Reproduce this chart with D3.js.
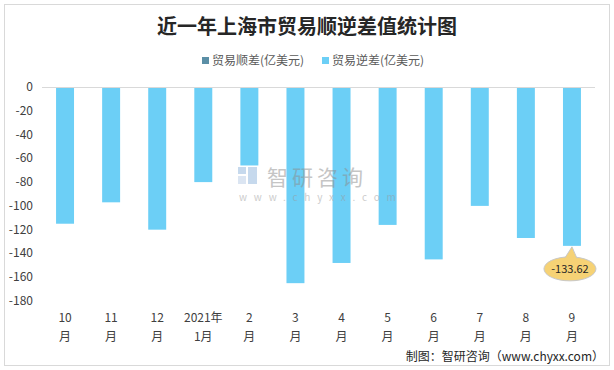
<!DOCTYPE html>
<html>
<head>
<meta charset="utf-8">
<script src="https://cdn.jsdelivr.net/npm/d3@7"></script>
<style>
    body { margin: 0; background: #fff; }
    text { font-family: "Noto Sans CJK SC", "Liberation Sans", sans-serif; }
</style>
</head>
<body>
<div id="chart"></div>
<script>
var months = ['10月', '11月', '12月', '2021年1月', '2月', '3月', '4月', '5月', '6月', '7月', '8月', '9月'];
var monthLines = [['10', '月'], ['11', '月'], ['12', '月'], ['2021年', '1月'], ['2', '月'], ['3', '月'],
    ['4', '月'], ['5', '月'], ['6', '月'], ['7', '月'], ['8', '月'], ['9', '月']];
var surplus = [0, 0, 0, 0, 0, 0, 0, 0, 0, 0, 0, 0];
var deficit = [-115, -97, -120, -80, -66, -165, -148, -116, -145, -100, -127, -133.62];
var yTicks = [0, -20, -40, -60, -80, -100, -120, -140, -160, -180];
var legendNames = ['贸易顺差(亿美元)', '贸易逆差(亿美元)'];

var svg = d3.select('#chart').append('svg')
    .attr('width', 614)
    .attr('height', 370);

svg.append('rect')
    .attr('x', 4.5).attr('y', 4.5)
    .attr('width', 605).attr('height', 361)
    .attr('fill', '#fff')
    .attr('stroke', '#d9d9d9');

svg.append('text')
    .attr('x', 307).attr('y', 34)
    .attr('text-anchor', 'middle')
    .style('font-size', '20px')
    .style('font-weight', 'bold')
    .attr('fill', '#262626')
    .text('近一年上海市贸易顺逆差值统计图');

// legend
var legendColors = ['#5b8fa6', '#6ccff6'];
var legendX = [202, 322];
legendNames.forEach(function (name, i) {
    svg.append('rect')
        .attr('x', legendX[i]).attr('y', 57)
        .attr('width', 7).attr('height', 7)
        .attr('fill', legendColors[i]);
    svg.append('text')
        .attr('x', legendX[i] + 10).attr('y', 65)
        .style('font-size', '12px')
        .attr('fill', '#595959')
        .text(name);
});

var x = d3.scaleBand()
    .domain(months)
    .range([42, 595])
    .paddingInner(0.61)
    .paddingOuter(0.305);

var y = d3.scaleLinear()
    .domain([0, -180])
    .range([87, 301]);

// y axis labels
svg.append('g')
    .selectAll('text')
    .data(yTicks)
    .enter().append('text')
    .attr('x', 33)
    .attr('y', function (d) { return y(d) + 4; })
    .attr('text-anchor', 'end')
    .style('font-size', '12px')
    .attr('fill', '#404040')
    .text(function (d) { return d; });

// bars
svg.append('g')
    .selectAll('rect')
    .data(deficit)
    .enter().append('rect')
    .attr('x', function (d, i) { return x(months[i]); })
    .attr('y', y(0))
    .attr('width', x.bandwidth())
    .attr('height', function (d) { return y(d) - y(0); })
    .attr('fill', '#6ccff6');

svg.append('line')
    .attr('x1', 42).attr('x2', 595)
    .attr('y1', y(0) + 0.5).attr('y2', y(0) + 0.5)
    .attr('stroke', '#d9d9d9');

// watermark
var wm = svg.append('g').attr('opacity', 0.5);
wm.append('rect').attr('x', 238).attr('y', 167).attr('width', 8).attr('height', 7).attr('fill', '#8fb4dc');
wm.append('rect').attr('x', 248).attr('y', 167).attr('width', 9).attr('height', 17).attr('fill', '#8fb4dc');
wm.append('rect').attr('x', 238).attr('y', 176).attr('width', 8).attr('height', 8).attr('fill', '#b9cde6');
wm.append('text')
    .attr('x', 267).attr('y', 185)
    .style('font-size', '21px')
    .attr('fill', '#8c8c8c')
    .style('letter-spacing', '4px')
    .text('智研咨询');
wm.append('text')
    .attr('x', 239).attr('y', 201)
    .style('font-size', '10px')
    .attr('fill', '#9a9a9a')
    .style('letter-spacing', '6.8px')
    .text('www.chyxx.com');

// x labels
var xl = svg.append('g')
    .selectAll('text')
    .data(monthLines)
    .enter().append('text')
    .attr('text-anchor', 'middle')
    .style('font-size', '12px')
    .attr('fill', '#404040');
xl.append('tspan')
    .attr('x', function (d, i) { return x(months[i]) + x.bandwidth() / 2; })
    .attr('y', 322)
    .text(function (d) { return d[0]; });
xl.append('tspan')
    .attr('x', function (d, i) { return x(months[i]) + x.bandwidth() / 2; })
    .attr('y', 341)
    .text(function (d) { return d[1]; });

// data label callout on last bar
var last = deficit.length - 1;
var cx = x(months[last]) + x.bandwidth() / 2;
var tipY = y(deficit[last]);
var ey = tipY + 23, rx = 26, ry = 12;
var callout = d3.path();
callout.moveTo(cx - 7, ey - ry + 1);
callout.lineTo(cx, tipY + 1);
callout.lineTo(cx + 5, ey - ry + 1.5);
svg.append('ellipse')
    .attr('cx', cx - 2).attr('cy', ey)
    .attr('rx', rx).attr('ry', ry)
    .attr('fill', '#f6d275')
    .attr('stroke', '#c8c8c8');
svg.append('path')
    .attr('d', callout.toString())
    .attr('fill', '#f6d275')
    .attr('stroke', '#c8c8c8');
svg.append('rect')
    .attr('x', cx - 7).attr('y', ey - ry + 1)
    .attr('width', 12).attr('height', 4)
    .attr('fill', '#f6d275');
svg.append('text')
    .attr('x', cx - 2).attr('y', ey + 4)
    .attr('text-anchor', 'middle')
    .style('font-size', '11px')
    .attr('fill', '#262626')
    .text(deficit[last]);

svg.append('text')
    .attr('x', 604).attr('y', 361)
    .attr('text-anchor', 'end')
    .style('font-size', '12px')
    .attr('fill', '#262626')
    .text('制图：智研咨询（www.chyxx.com）');
</script>
</body>
</html>
